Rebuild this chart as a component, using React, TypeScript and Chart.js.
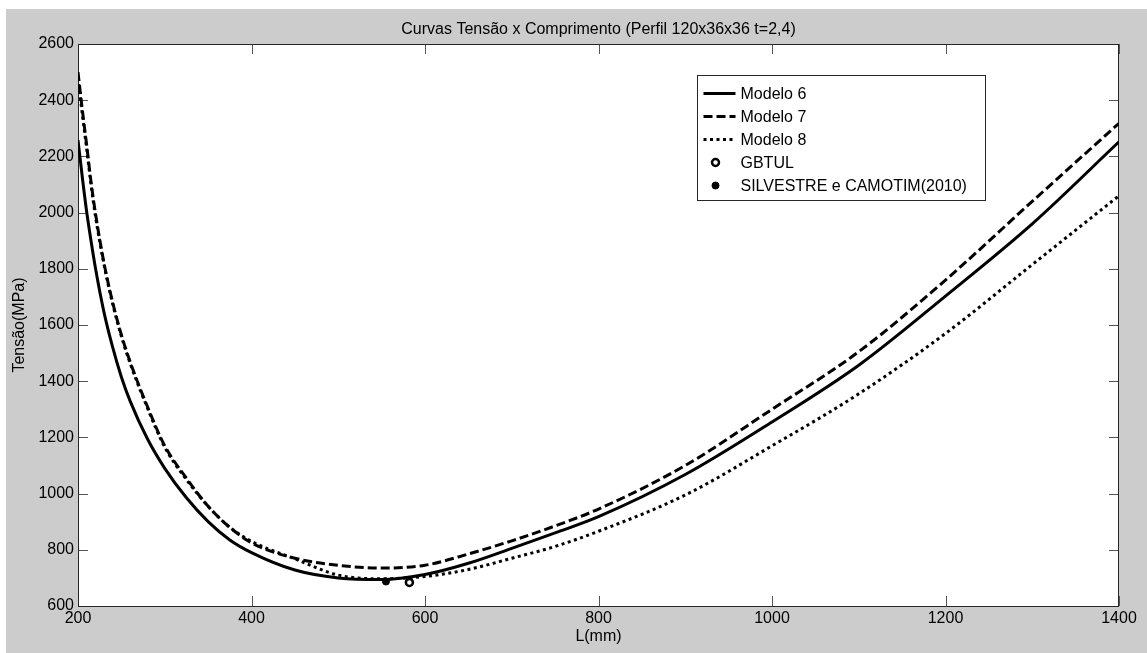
import React, { useEffect, useRef } from "react";
import { Chart, registerables } from "chart.js";

Chart.register(...registerables);

// ---- data ----
const lengths = [200, 205, 210, 215, 220, 230, 240, 250, 260, 280, 300, 325, 350, 375, 400, 450, 500, 550, 600, 650, 700, 750, 800, 900, 1000, 1100, 1200, 1300, 1400];
const modelo6 = [2258, 2125, 2003, 1900, 1805, 1645, 1520, 1415, 1330, 1195, 1090, 985, 900, 835, 790, 728, 700, 694, 712, 752, 805, 860, 918, 1068, 1255, 1457, 1703, 1960, 2252];
const modelo7 = [2500, 2365, 2240, 2110, 2000, 1820, 1680, 1565, 1470, 1310, 1170, 1055, 955, 880, 825, 770, 745, 735, 745, 785, 832, 885, 945, 1100, 1300, 1505, 1760, 2040, 2318];
const modelo8 = [2480, 2350, 2228, 2100, 1990, 1815, 1675, 1560, 1465, 1305, 1165, 1050, 955, 880, 830, 768, 710, 697, 705, 730, 770, 812, 866, 995, 1170, 1355, 1570, 1815, 2060];
const gbtulL = [582];
const gbtulS = [684];
const silvL = [555];
const silvS = [687];

const xTicks = [200, 400, 600, 800, 1000, 1200, 1400];
const yTicks = [600, 800, 1000, 1200, 1400, 1600, 1800, 2000, 2200, 2400, 2600];

const seriesLabels = ["Modelo 6", "Modelo 7", "Modelo 8", "GBTUL", "SILVESTRE e CAMOTIM(2010)"];
const chartTitle = "Curvas Tensão x Comprimento (Perfil 120x36x36 t=2,4)";
const xTitle = "L(mm)";
const yTitle = "Tensão(MPa)";

const FONT = "'Liberation Sans', Arial, Helvetica, sans-serif";
const FS = 16;

const toPts = (xs: number[], ys: number[]) => xs.map((x, i) => ({ x, y: ys[i] }));

const framePlugin = {
  id: "matlabFrame",
  beforeDraw(chart: any) {
    const { ctx, chartArea: a } = chart;
    ctx.save();
    ctx.fillStyle = "#ffffff";
    ctx.fillRect(a.left, a.top, a.right - a.left, a.bottom - a.top);
    ctx.restore();
  },
  beforeDatasetsDraw(chart: any) {
    const { ctx, chartArea: a, scales } = chart;
    const len = 10;
    ctx.save();
    ctx.strokeStyle = "#555555";
    ctx.lineWidth = 1;
    ctx.beginPath();
    xTicks.forEach((v) => {
      const px = Math.round(scales.x.getPixelForValue(v)) + 0.5;
      ctx.moveTo(px, a.bottom);
      ctx.lineTo(px, a.bottom - len);
      ctx.moveTo(px, a.top);
      ctx.lineTo(px, a.top + len);
    });
    yTicks.forEach((v) => {
      const py = Math.round(scales.y.getPixelForValue(v)) + 0.5;
      ctx.moveTo(a.left, py);
      ctx.lineTo(a.left + len, py);
      ctx.moveTo(a.right, py);
      ctx.lineTo(a.right - len, py);
    });
    ctx.stroke();
    ctx.strokeStyle = "#262626";
    ctx.strokeRect(Math.round(a.left) + 0.5, Math.round(a.top) + 0.5, Math.round(a.right - a.left) - 1, Math.round(a.bottom - a.top));
    ctx.restore();
  },
  afterDraw(chart: any) {
    const { ctx, chartArea: a } = chart;
    ctx.save();
    // title
    ctx.fillStyle = "#000";
    ctx.font = `${FS}px ${FONT}`;
    ctx.textAlign = "center";
    ctx.textBaseline = "middle";
    ctx.fillText(chartTitle, (a.left + a.right) / 2, a.top - 14);

    // legend
    const bx = Math.round(a.right - 422) + 0.5;
    const by = Math.round(a.top + 31) + 0.5;
    const bw = 288;
    const bh = 125;
    ctx.fillStyle = "#ffffff";
    ctx.fillRect(bx, by, bw, bh);
    ctx.strokeStyle = "#262626";
    ctx.lineWidth = 1;
    ctx.strokeRect(bx, by, bw, bh);
    const ds = chart.data.datasets;
    ds.forEach((d: any, i: number) => {
      const cy = by + 18 + i * 23;
      if (d.showLine !== false) {
        ctx.save();
        ctx.strokeStyle = d.borderColor;
        ctx.lineWidth = d.borderWidth;
        ctx.setLineDash(d.borderDash || []);
        ctx.beginPath();
        ctx.moveTo(bx + 6, cy);
        ctx.lineTo(bx + 38, cy);
        ctx.stroke();
        ctx.restore();
      } else {
        ctx.save();
        ctx.beginPath();
        ctx.arc(bx + 18, cy, d.pointRadius, 0, Math.PI * 2);
        ctx.fillStyle = d.pointBackgroundColor;
        ctx.fill();
        ctx.lineWidth = d.pointBorderWidth;
        ctx.strokeStyle = d.pointBorderColor;
        ctx.stroke();
        ctx.restore();
      }
      ctx.fillStyle = "#000";
      ctx.textAlign = "left";
      ctx.textBaseline = "middle";
      ctx.font = `${FS}px ${FONT}`;
      ctx.fillText(d.label, bx + 43, cy + 1);
    });
    ctx.restore();
  },
};

export default function App() {
  const ref = useRef<HTMLCanvasElement | null>(null);

  useEffect(() => {
    if (!ref.current) return;
    const lineDs = (label: string, ys: number[], dash: number[]) => ({
      label,
      data: toPts(lengths, ys),
      borderColor: "#000000",
      backgroundColor: "#000000",
      borderWidth: 3,
      borderDash: dash,
      pointRadius: 0,
      cubicInterpolationMode: "monotone" as const,
      fill: false,
    });
    const chart = new Chart(ref.current, {
      type: "line",
      data: {
        datasets: [
          lineDs(seriesLabels[0], modelo6, []),
          lineDs(seriesLabels[1], modelo7, [9, 4]),
          lineDs(seriesLabels[2], modelo8, [3, 3.5]),
          {
            label: seriesLabels[3],
            data: toPts(gbtulL, gbtulS),
            showLine: false,
            pointRadius: 3.5,
            pointBorderWidth: 2.5,
            pointBorderColor: "#000000",
            pointBackgroundColor: "#ffffff",
            borderColor: "#000000",
            backgroundColor: "#ffffff",
          },
          {
            label: seriesLabels[4],
            data: toPts(silvL, silvS),
            showLine: false,
            pointRadius: 3.5,
            pointBorderWidth: 1,
            pointBorderColor: "#000000",
            pointBackgroundColor: "#000000",
            borderColor: "#000000",
            backgroundColor: "#000000",
          },
        ] as any,
      },
      options: {
        animation: false,
        responsive: false,
        devicePixelRatio: 1,
        layout: { padding: { top: 35, right: 28, left: 0, bottom: 0 } },
        plugins: {
          legend: { display: false },
          tooltip: { enabled: false },
          title: { display: false },
        },
        scales: {
          x: {
            type: "linear",
            min: 200,
            max: 1400,
            afterBuildTicks: (s: any) => {
              s.ticks = xTicks.map((v) => ({ value: v }));
            },
            afterFit: (s: any) => {
              s.height = 47;
            },
            ticks: {
              color: "#000",
              font: { family: FONT, size: FS },
              padding: 3,
              maxRotation: 0,
              autoSkip: false,
              callback: (v: any) => String(v),
            },
            grid: { drawOnChartArea: false, drawTicks: false },
            border: { display: false },
            title: {
              display: true,
              text: xTitle,
              color: "#000",
              font: { family: FONT, size: FS },
              padding: { top: 0, bottom: 7 },
            },
          },
          y: {
            type: "linear",
            min: 600,
            max: 2600,
            afterBuildTicks: (s: any) => {
              s.ticks = yTicks.map((v) => ({ value: v }));
            },
            afterFit: (s: any) => {
              s.width = 72;
            },
            ticks: {
              color: "#000",
              font: { family: FONT, size: FS },
              padding: 4,
              autoSkip: false,
              callback: (v: any) => String(v),
            },
            grid: { drawOnChartArea: false, drawTicks: false },
            border: { display: false },
            title: {
              display: true,
              text: yTitle,
              color: "#000",
              font: { family: FONT, size: FS },
              padding: { top: 4, bottom: 0 },
            },
          },
        },
      } as any,
      plugins: [framePlugin],
    });
    return () => chart.destroy();
  }, []);

  return (
    <div
      style={{
        position: "absolute",
        left: 6,
        top: 9,
        width: 1141,
        height: 644,
        background: "#cccccc",
      }}
    >
      <canvas ref={ref} width={1141} height={644} style={{ display: "block" }} />
    </div>
  );
}
